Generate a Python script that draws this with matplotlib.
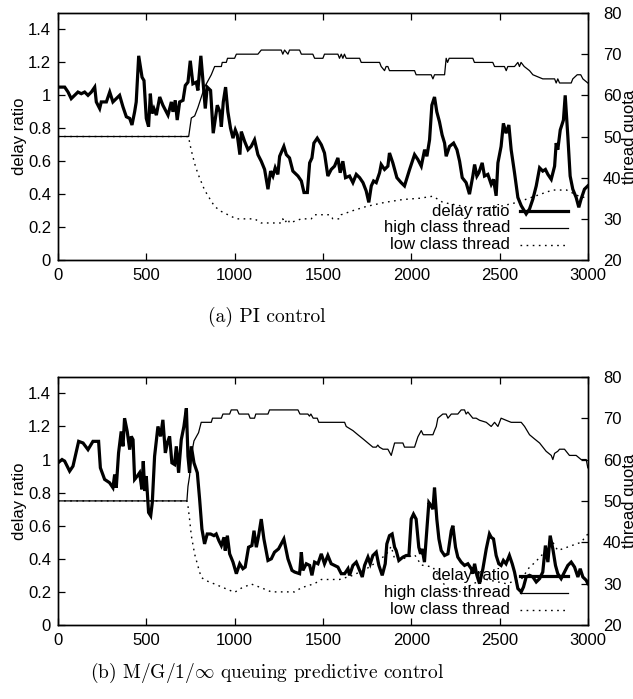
import matplotlib
matplotlib.use('Agg')
import matplotlib.pyplot as plt

plt.rcParams['font.family'] = ['Liberation Sans', 'DejaVu Sans']
plt.rcParams['mathtext.fontset'] = 'cm'

# ---- (a) PI control ----
pi_delay_t = [
    0, 38, 57, 75, 94, 113, 132, 151, 170, 189,
    208, 217, 236, 245, 274, 293, 311, 330, 349, 368,
    387, 406, 419, 434, 443, 457, 476, 487, 500, 513,
    523, 532, 543, 557, 576, 594, 623, 642, 651, 664,
    675, 689, 708, 721, 736, 749, 764, 783, 792, 809,
    823, 834, 845, 864, 879, 902, 917, 925, 936, 949,
    962, 977, 991, 1004, 1015, 1030, 1038, 1057, 1076, 1094,
    1113, 1132, 1151, 1170, 1189, 1204, 1217, 1230, 1245, 1255,
    1279, 1293, 1311, 1330, 1359, 1378, 1393, 1412, 1425, 1438,
    1449, 1468, 1491, 1509, 1528, 1547, 1566, 1585, 1598, 1613,
    1628, 1651, 1670, 1689, 1708, 1727, 1745, 1760, 1774, 1787,
    1802, 1821, 1830, 1849, 1868, 1877, 1896, 1919, 1943, 1962,
    1991, 2019, 2038, 2057, 2076, 2089, 2104, 2117, 2132, 2145,
    2160, 2175, 2189, 2198, 2217, 2240, 2259, 2274, 2289, 2311,
    2330, 2349, 2359, 2372, 2383, 2402, 2415, 2434, 2453, 2466,
    2481, 2491, 2509, 2522, 2537, 2553, 2566, 2585, 2604, 2623,
    2651, 2670, 2689, 2708, 2727, 2745, 2760, 2774, 2793, 2812,
    2821, 2830, 2844, 2862, 2872, 2887, 2900, 2915, 2934, 2949,
    2962, 2981, 3000,
]
pi_delay = [
    1.05, 1.05, 1.02, 0.98, 1.00, 1.02, 1.01, 1.02, 1.00, 1.02,
    1.05, 0.96, 0.92, 0.96, 0.96, 1.02, 0.96, 0.98, 1.00, 0.93,
    0.87, 0.86, 0.82, 0.90, 0.96, 1.24, 1.11, 1.09, 0.86, 0.81,
    1.01, 0.89, 0.92, 0.88, 0.99, 0.94, 0.88, 0.96, 0.90, 0.97,
    0.85, 0.96, 0.97, 1.06, 1.08, 1.21, 1.07, 1.08, 1.03, 1.24,
    1.06, 0.92, 1.05, 1.03, 0.77, 0.94, 0.90, 0.81, 0.96, 1.05,
    0.90, 0.80, 0.74, 0.79, 0.76, 0.64, 0.78, 0.72, 0.67, 0.69,
    0.73, 0.64, 0.60, 0.55, 0.43, 0.54, 0.51, 0.56, 0.52, 0.63,
    0.69, 0.64, 0.62, 0.54, 0.51, 0.48, 0.41, 0.41, 0.59, 0.62,
    0.71, 0.74, 0.70, 0.65, 0.51, 0.55, 0.57, 0.62, 0.53, 0.60,
    0.50, 0.51, 0.47, 0.52, 0.50, 0.47, 0.42, 0.35, 0.45, 0.48,
    0.47, 0.53, 0.58, 0.55, 0.57, 0.65, 0.59, 0.50, 0.47, 0.45,
    0.55, 0.64, 0.61, 0.57, 0.67, 0.63, 0.73, 0.94, 0.99, 0.90,
    0.84, 0.76, 0.71, 0.63, 0.69, 0.71, 0.67, 0.60, 0.50, 0.47,
    0.40, 0.51, 0.58, 0.51, 0.53, 0.59, 0.51, 0.52, 0.46, 0.49,
    0.39, 0.59, 0.69, 0.83, 0.77, 0.82, 0.67, 0.53, 0.38, 0.33,
    0.28, 0.31, 0.37, 0.45, 0.56, 0.54, 0.55, 0.52, 0.49, 0.57,
    0.71, 0.67, 0.79, 0.85, 1.00, 0.75, 0.51, 0.43, 0.38, 0.32,
    0.37, 0.43, 0.45,
]

pi_high_t = [
    0, 740, 755, 774, 792, 811, 830, 849, 868, 887,
    925, 930, 953, 960, 1000, 1010, 1132, 1151, 1264, 1273,
    1283, 1302, 1311, 1368, 1378, 1443, 1453, 1500, 1509, 1585,
    1594, 1604, 1613, 1622, 1632, 1708, 1717, 1821, 1830, 1849,
    1858, 1868, 1877, 2019, 2028, 2113, 2123, 2132, 2189, 2198,
    2206, 2215, 2349, 2358, 2462, 2472, 2528, 2538, 2547, 2585,
    2604, 2613, 2622, 2640, 2670, 2689, 2745, 2812, 2821, 2830,
    2840, 2906, 2915, 2940, 2960, 2972, 3000,
]
pi_high = [
    50, 50, 54.5, 55, 57, 59.5, 62, 63.5, 65, 67,
    67, 68, 68, 69, 69, 70, 70, 71, 71, 70,
    71, 70, 71, 71, 70, 70, 69, 69, 70, 70,
    69, 70, 69, 70, 69, 69, 68, 68, 67, 66,
    67, 67, 66, 66, 65, 65, 64, 65, 65, 69,
    68, 69, 69, 68, 68, 67, 67, 66, 67, 67,
    68, 67, 68, 67, 66, 65, 64, 64, 63, 64,
    63, 63, 64, 65, 65, 64, 63,
]

pi_low_t = [
    0, 740, 745, 755, 774, 792, 811, 830, 858, 887,
    925, 962, 1010, 1113, 1151, 1264, 1273, 1283, 1302, 1311,
    1378, 1434, 1453, 1538, 1557, 1594, 1604, 1670, 1745, 1850,
    1953, 2047, 2123, 2179, 2300, 2400, 2500, 2600, 2700, 2800,
    2880, 2950, 3000,
]
pi_low = [
    50, 50, 48.6, 46.6, 43.4, 41, 39, 37, 35, 33,
    31.8, 31, 30, 30, 29, 29, 30, 29, 30, 29,
    30, 30, 31, 31, 30, 30, 31, 32, 33, 34,
    34.7, 35, 35.5, 34, 33, 32.5, 33, 34, 35.5, 37,
    37, 35.5, 35,
]

# ---- (b) M/G/1/inf queuing predictive control ----
mg_delay_t = [
    0, 23, 38, 66, 85, 98, 117, 142, 170, 198,
    230, 240, 264, 292, 311, 321, 330, 343, 358, 368,
    377, 392, 406, 415, 425, 434, 449, 462, 475, 483,
    491, 500, 513, 525, 534, 547, 566, 581, 594, 608,
    619, 632, 645, 660, 670, 683, 698, 713, 727, 736,
    745, 755, 770, 789, 802, 815, 830, 845, 864, 883,
    896, 911, 925, 940, 947, 959, 972, 991, 1010, 1029,
    1047, 1060, 1079, 1098, 1110, 1123, 1136, 1151, 1166, 1189,
    1208, 1226, 1249, 1279, 1302, 1325, 1340, 1368, 1378, 1387,
    1406, 1425, 1438, 1453, 1472, 1491, 1509, 1528, 1547, 1566,
    1585, 1604, 1623, 1642, 1651, 1670, 1689, 1704, 1723, 1736,
    1755, 1768, 1783, 1802, 1817, 1836, 1853, 1862, 1877, 1892,
    1906, 1915, 1930, 1953, 1972, 1987, 2000, 2013, 2028, 2043,
    2053, 2062, 2075, 2089, 2100, 2113, 2123, 2132, 2145, 2157,
    2170, 2189, 2208, 2227, 2236, 2251, 2264, 2283, 2302, 2321,
    2340, 2349, 2359, 2372, 2387, 2406, 2425, 2443, 2453, 2466,
    2481, 2496, 2509, 2522, 2537, 2556, 2572, 2585, 2604, 2623,
    2636, 2651, 2670, 2689, 2708, 2727, 2745, 2760, 2774, 2787,
    2802, 2817, 2830, 2849, 2868, 2887, 2906, 2925, 2944, 2957,
    2972, 2991, 3000,
]
mg_delay = [
    0.98, 1.00, 0.99, 0.93, 0.96, 1.02, 1.11, 1.10, 1.06, 1.11,
    1.11, 0.95, 0.88, 0.86, 0.83, 0.91, 0.83, 1.04, 1.17, 1.08,
    1.25, 1.17, 1.06, 1.14, 1.12, 0.88, 0.90, 0.92, 0.82, 0.99,
    0.81, 0.90, 0.68, 0.66, 0.74, 1.02, 1.20, 1.14, 1.24, 1.04,
    1.10, 1.14, 0.98, 0.97, 1.08, 0.92, 1.12, 1.20, 1.31, 1.02,
    0.92, 1.08, 0.98, 0.92, 0.76, 0.58, 0.49, 0.55, 0.55, 0.54,
    0.55, 0.51, 0.48, 0.53, 0.45, 0.54, 0.43, 0.38, 0.31, 0.37,
    0.34, 0.35, 0.47, 0.48, 0.57, 0.47, 0.54, 0.64, 0.52, 0.39,
    0.40, 0.44, 0.46, 0.52, 0.40, 0.33, 0.32, 0.31, 0.44, 0.33,
    0.37, 0.36, 0.30, 0.38, 0.37, 0.43, 0.37, 0.42, 0.37, 0.36,
    0.35, 0.31, 0.31, 0.34, 0.30, 0.36, 0.38, 0.34, 0.29, 0.36,
    0.41, 0.37, 0.42, 0.44, 0.36, 0.30, 0.37, 0.49, 0.54, 0.55,
    0.47, 0.45, 0.39, 0.41, 0.42, 0.42, 0.64, 0.67, 0.64, 0.47,
    0.43, 0.46, 0.38, 0.58, 0.74, 0.72, 0.70, 0.83, 0.64, 0.52,
    0.45, 0.42, 0.43, 0.57, 0.60, 0.47, 0.41, 0.38, 0.36, 0.37,
    0.34, 0.31, 0.37, 0.30, 0.25, 0.34, 0.46, 0.55, 0.53, 0.52,
    0.42, 0.37, 0.36, 0.39, 0.37, 0.42, 0.37, 0.32, 0.22, 0.20,
    0.23, 0.29, 0.30, 0.29, 0.26, 0.28, 0.32, 0.48, 0.38, 0.54,
    0.46, 0.36, 0.31, 0.28, 0.32, 0.36, 0.38, 0.35, 0.29, 0.34,
    0.29, 0.27, 0.25,
]

mg_high_t = [
    0, 730, 736, 745, 755, 770, 783, 796, 811, 868,
    875, 925, 934, 972, 981, 1015, 1025, 1079, 1088, 1113,
    1120, 1189, 1198, 1359, 1370, 1415, 1424, 1432, 1445, 1468,
    1477, 1623, 1632, 1670, 1698, 1727, 1755, 1783, 1802, 1811,
    1820, 1840, 1868, 1887, 1906, 1953, 1962, 2019, 2038, 2057,
    2068, 2123, 2132, 2142, 2151, 2179, 2198, 2208, 2227, 2264,
    2283, 2302, 2311, 2321, 2330, 2349, 2368, 2387, 2425, 2453,
    2472, 2491, 2509, 2537, 2566, 2623, 2642, 2670, 2698, 2727,
    2764, 2793, 2802, 2812, 2830, 2840, 2868, 2896, 2934, 2962,
    2991, 3000,
]
mg_high = [
    50, 50, 53.5, 56, 61, 64.5, 65.5, 66.5, 69, 69,
    70, 70, 71, 71, 72, 72, 71, 71, 70, 70,
    71, 71, 72, 72, 71, 71, 70.5, 71, 70, 70,
    69, 69, 68, 67, 66, 65, 64, 63, 63, 63.5,
    63, 62.5, 62.5, 61, 64, 64, 63, 63, 65.5, 67,
    66, 66, 67, 68, 70, 71, 71, 70, 71, 71,
    72, 72, 71, 71.5, 71, 70, 70, 69.5, 69, 68,
    69, 68, 70, 69.5, 69, 69, 68, 66, 65, 64,
    62, 61, 60, 61.5, 62, 62.5, 62.5, 61, 61, 60,
    60, 58,
]

mg_low_t = [
    0, 730, 736, 745, 755, 774, 792, 811, 840, 887,
    943, 1000, 1038, 1094, 1151, 1208, 1340, 1378, 1453, 1491,
    1594, 1670, 1764, 1858, 1887, 1906, 1953, 2019, 2057, 2123,
    2151, 2200, 2283, 2349, 2425, 2537, 2623, 2670, 2698, 2764,
    2802, 2830, 2896, 2962, 3000,
]
mg_low = [
    50, 50, 48.8, 45.6, 41.6, 37.1, 34.3, 31.5, 30.7, 29.9,
    28.9, 27.9, 28.9, 29.9, 29, 28, 28, 29, 30, 31,
    31, 32, 34, 37, 39, 36, 36, 37, 34.5, 34,
    32, 29, 28, 30, 31, 30, 31, 34, 35, 38,
    40, 38, 39, 40, 42,
]

delay_ticks = [0, 0.2, 0.4, 0.6, 0.8, 1.0, 1.2, 1.4]
delay_tick_labels = ['0', '0.2', '0.4', '0.6', '0.8', '1', '1.2', '1.4']
quota_ticks = [20, 30, 40, 50, 60, 70, 80]
time_ticks = [0, 500, 1000, 1500, 2000, 2500, 3000]
legend_labels = ['delay ratio', 'high class thread', 'low class thread']

FONT = 12
DOTS = (0, (1.2, 3.2))


def draw_panel(fig, rect, delay_t, delay, high_t, high, low_t, low):
    ax = fig.add_axes(rect)
    ax2 = ax.twinx()

    ax.plot(delay_t, delay, color='black', lw=2.3, solid_joinstyle='miter')
    ax2.plot(high_t, high, color='black', lw=0.9)
    ax2.plot(low_t, low, color='black', lw=1.0, linestyle=DOTS)

    ax.set_xlim(0, 3000)
    ax.set_ylim(0, 1.5)
    ax2.set_ylim(20, 80)
    ax.set_xticks(time_ticks)
    ax.set_yticks(delay_ticks)
    ax.set_yticklabels(delay_tick_labels)
    ax2.set_yticks(quota_ticks)

    ax.tick_params(axis='both', direction='in', length=5, width=0.9,
                   labelsize=FONT, top=True, right=False)
    ax.tick_params(axis='x', pad=6)
    ax.tick_params(axis='y', pad=5)
    ax2.tick_params(axis='y', direction='in', length=5, width=0.9,
                    labelsize=FONT, pad=11)
    for a in (ax, ax2):
        for s in a.spines.values():
            s.set_linewidth(1.0)

    # labels overlap the tick numbers, as gnuplot draws them
    ax.set_ylabel('delay ratio', fontsize=FONT)
    ax.yaxis.set_label_coords(-0.058, 0.5)
    ax2.set_ylabel('thread quota', fontsize=FONT)
    ax2.yaxis.set_label_coords(1.064, 0.5)

    # gnuplot-style key: right-aligned text, sample line after it
    styles = [dict(lw=2.3), dict(lw=0.9), dict(lw=1.0, linestyle=DOTS)]
    for row, (label, st) in enumerate(zip(legend_labels, styles)):
        y = 0.198 - row * 0.068
        ax2.text(0.853, y, label, transform=ax2.transAxes, ha='right',
                 va='center', fontsize=FONT)
        ax2.plot([0.872, 0.962], [y, y], transform=ax2.transAxes,
                 color='black', **st)
    return ax


def main():
    for t, v in [(pi_delay_t, pi_delay), (pi_high_t, pi_high), (pi_low_t, pi_low),
                 (mg_delay_t, mg_delay), (mg_high_t, mg_high), (mg_low_t, mg_low)]:
        assert len(t) == len(v), (len(t), len(v))

    fig = plt.figure(figsize=(6.33, 6.99), dpi=100)

    draw_panel(fig, [0.0916, 0.628, 0.837, 0.3534],
               pi_delay_t, pi_delay, pi_high_t, pi_high, pi_low_t, pi_low)
    draw_panel(fig, [0.0916, 0.1059, 0.837, 0.355],
               mg_delay_t, mg_delay, mg_high_t, mg_high, mg_low_t, mg_low)

    fig.text(0.422, 0.5465, '(a) PI control', family='cmr10', fontsize=14,
             ha='center', va='center')
    fig.text(0.422, 0.037, r'(b) M/G/1/$\infty$ queuing predictive control',
             family='cmr10', fontsize=14, ha='center', va='center')

    fig.savefig('out.png', dpi=100)


if __name__ == '__main__':
    main()
